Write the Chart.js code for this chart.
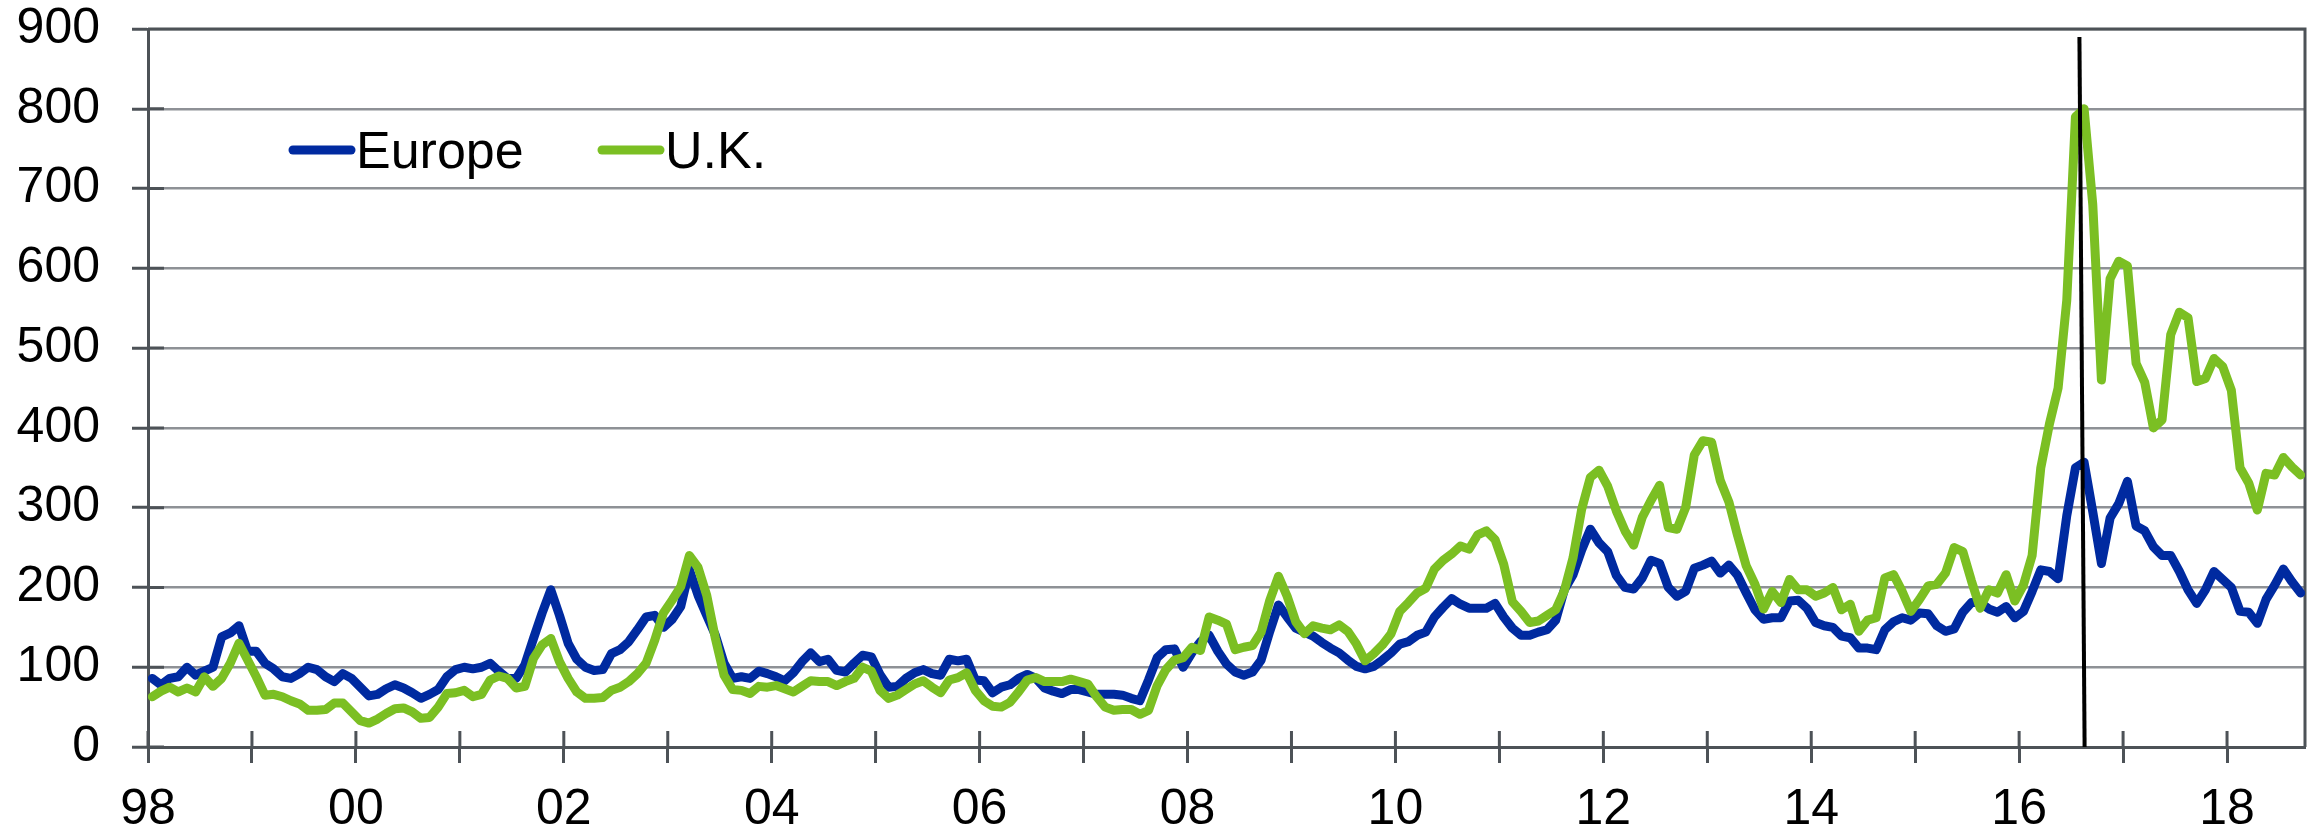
<!DOCTYPE html>
<html>
<head>
<meta charset="utf-8">
<script src="https://cdn.jsdelivr.net/npm/chart.js@4.4.1/dist/chart.umd.min.js"></script>
<style>
  html, body { margin: 0; padding: 0; background: #fff; }
  #wrap { width: 2313px; height: 829px; }
</style>
</head>
<body>
<div id="wrap"><canvas id="chart" width="2313" height="829"></canvas></div>
<script>
// monthly index values, Jan 1998 .. Sep 2018
var europe = [
  86, 78, 86, 88, 100, 90, 95, 100, 138, 143, 152, 120,
  120, 105, 98, 88, 86, 92, 100, 97, 88, 82, 92, 86,
  75, 64, 66, 73, 78, 74, 68, 61, 66, 72, 88, 97,
  100, 98, 100, 105, 95, 86, 86, 103, 136, 168, 197, 165,
  130, 110, 100, 96, 97, 117, 122, 132, 147, 163, 165, 150,
  160, 176, 222, 190, 165, 140, 105, 86, 88, 86, 95, 92,
  88, 83, 93, 107, 118, 107, 110, 96, 94, 105, 115, 113,
  91, 75, 76, 86, 93, 97, 92, 90, 110, 108, 110, 84,
  83, 68, 75, 78, 86, 91, 86, 74, 70, 67, 72, 72,
  69, 66, 66, 66, 65, 61, 58, 84, 112, 122, 123, 100,
  118, 132, 140, 120, 104, 94, 90, 94, 109, 145, 178, 163,
  149, 144, 139, 131, 124, 118, 109, 101, 98, 101, 109, 118,
  129, 132, 140, 144, 163, 175, 186, 179, 174, 174, 174, 180,
  163, 149, 140, 140, 144, 147, 159, 197, 216, 247, 273, 256,
  245, 215, 200, 198, 212, 234, 230, 200, 189, 195, 224, 228,
  233, 218, 228, 215, 193, 172, 160, 162, 162, 183, 184, 174,
  156, 152, 150, 139, 137, 124, 124, 122, 147, 157, 162, 159,
  168, 167, 152, 145, 148, 169, 181, 181, 173, 169, 176, 162,
  170, 195, 222, 220, 211, 290, 350, 357, 295, 230, 287, 305,
  333, 277, 271, 251, 240, 240, 220, 197, 180, 197, 220, 210,
  200, 170, 169, 155, 185, 203, 223, 207, 193
];
var uk = [
  63, 70, 75, 69, 74, 69, 88, 76, 86, 105, 130, 109,
  88, 65, 66, 63, 58, 54, 46, 46, 47, 55, 55, 44,
  33, 30, 35, 42, 48, 49, 44, 36, 37, 50, 67, 68,
  71, 63, 66, 84, 89, 86, 74, 76, 111, 128, 136, 107,
  86, 69, 61, 61, 62, 71, 75, 82, 92, 105, 134, 168,
  184, 201, 240, 225, 190, 136, 90, 72, 71, 67, 76, 75,
  77, 73, 69, 76, 83, 82, 82, 77, 82, 86, 100, 95,
  71, 61, 65, 72, 79, 83, 75, 68, 84, 87, 93, 71,
  58, 51, 50, 56, 69, 84, 87, 82, 82, 82, 85, 82,
  79, 63, 50, 46, 47, 47, 41, 46, 77, 97, 109, 112,
  125, 121, 163, 159, 154, 122, 125, 127, 144, 184, 214, 189,
  157, 142, 152, 149, 147, 153, 145, 129, 108, 117, 128, 142,
  170, 181, 193, 199, 223, 234, 242, 252, 248, 266, 271, 260,
  229, 182, 170, 156, 158, 165, 172, 196, 237, 298, 338, 347,
  327, 296, 271, 253, 288, 309, 328, 275, 273, 300, 366, 384,
  382, 334, 307, 265, 227, 204, 173, 195, 181, 210, 197, 197,
  189, 193, 200, 172, 179, 145, 159, 162, 212, 216, 195, 170,
  185, 202, 204, 218, 250, 245, 208, 174, 197, 193, 216, 183,
  203, 240, 350, 405, 450, 560, 790, 800, 680, 460, 587, 609,
  603, 481, 457, 400, 410, 517, 545, 538, 458, 462, 487, 477,
  447, 350, 331, 297, 343, 341, 363, 351, 341
];
var startYear = 1998;
var endDate = 2018.75;
var yearTicks = [1998, 1999, 2000, 2001, 2002, 2003, 2004, 2005, 2006, 2007, 2008,
                 2009, 2010, 2011, 2012, 2013, 2014, 2015, 2016, 2017, 2018];
var tickLabels = ['98', '00', '02', '04', '06', '08', '10', '12', '14', '16', '18'];
// vertical marker (summer 2016), drawn as a slightly slanted line
var markerDates = [2016.58, 2016.63];
var markerValues = [890, 0];

// each monthly point sits in the middle of its month
var months = europe.map(function (v, i) { return startYear + (i + 0.5) / 12; });

var blue = '#002AA0';
var green = '#7BBF23';
var axisColor = '#4D5257';
var gridColor = '#8E9196';
var font = '"Liberation Sans", Arial, sans-serif';

function toPoints(values) {
    return values.map(function (v, i) { return { x: months[i], y: v }; });
}

var extras = {
    id: 'extras',
    beforeDatasetsDraw: function (chart) {
        var ctx = chart.ctx, a = chart.chartArea;
        var sx = chart.scales.x, sy = chart.scales.y;
        ctx.save();
        ctx.strokeStyle = axisColor;
        ctx.lineWidth = 3;
        ctx.beginPath();
        ctx.moveTo(a.left, a.top);
        ctx.lineTo(a.right, a.top);
        ctx.lineTo(a.right, a.bottom);
        sx.ticks.forEach(function (t) {
            var px = sx.getPixelForValue(t.value);
            ctx.moveTo(px, a.bottom);
            ctx.lineTo(px, a.bottom - 16);
        });
        sy.ticks.forEach(function (t) {
            var py = sy.getPixelForValue(t.value);
            ctx.moveTo(a.left, py);
            ctx.lineTo(a.left + 16, py);
        });
        ctx.stroke();
        ctx.restore();
    },
    afterDraw: function (chart) {
        var ctx = chart.ctx;
        var legendX = [293, 602];
        var legendY = 150;
        ctx.save();
        ctx.font = '52px ' + font;
        ctx.textBaseline = 'alphabetic';
        ctx.lineCap = 'round';
        ctx.lineWidth = 9;
        [0, 1].forEach(function (k) {
            var ds = chart.data.datasets[k];
            ctx.strokeStyle = ds.borderColor;
            ctx.beginPath();
            ctx.moveTo(legendX[k], legendY);
            ctx.lineTo(legendX[k] + 58, legendY);
            ctx.stroke();
            ctx.fillStyle = '#000';
            ctx.fillText(ds.label, legendX[k] + 63, legendY + 18);
        });
        ctx.restore();
    }
};

new Chart(document.getElementById('chart'), {
    type: 'line',
    data: {
        datasets: [
            {
                label: 'Europe',
                data: toPoints(europe),
                borderColor: blue,
                borderWidth: 9,
                pointRadius: 0,
                tension: 0,
                borderJoinStyle: 'round',
                borderCapStyle: 'round',
                order: 3
            },
            {
                label: 'U.K.',
                data: toPoints(uk),
                borderColor: green,
                borderWidth: 9,
                pointRadius: 0,
                tension: 0,
                borderJoinStyle: 'round',
                borderCapStyle: 'round',
                order: 2
            },
            {
                label: '',
                data: markerDates.map(function (d, i) { return { x: d, y: markerValues[i] }; }),
                borderColor: '#000',
                borderWidth: 4,
                pointRadius: 0,
                order: 1
            }
        ]
    },
    options: {
        responsive: false,
        animation: false,
        devicePixelRatio: 1,
        layout: { padding: { left: 0, right: 8, top: 29, bottom: 0 } },
        plugins: {
            legend: { display: false },
            tooltip: { enabled: false }
        },
        scales: {
            x: {
                type: 'linear',
                min: startYear,
                max: endDate,
                afterBuildTicks: function (s) {
                    s.ticks = yearTicks.map(function (v) { return { value: v }; });
                },
                afterFit: function (s) {
                    s.height = 82;
                    s.paddingLeft = 0;
                    s.paddingRight = 0;
                },
                border: { color: axisColor, width: 3 },
                grid: {
                    drawOnChartArea: false,
                    tickLength: 16,
                    tickColor: axisColor,
                    tickWidth: 3
                },
                ticks: {
                    autoSkip: false,
                    maxRotation: 0,
                    padding: 17,
                    color: '#000',
                    font: { family: font, size: 50 },
                    callback: function (v) {
                        var n = v - startYear;
                        return n % 2 === 0 ? tickLabels[n / 2] : '';
                    }
                }
            },
            y: {
                min: 0,
                max: 900,
                afterFit: function (s) {
                    s.width = 148;
                    s.paddingTop = 0;
                    s.paddingBottom = 0;
                },
                border: { color: axisColor, width: 3 },
                grid: {
                    color: gridColor,
                    lineWidth: 2.5,
                    tickLength: 16,
                    tickColor: axisColor,
                    tickWidth: 3
                },
                ticks: {
                    stepSize: 100,
                    padding: 32,
                    color: '#000',
                    font: { family: font, size: 50 }
                }
            }
        }
    },
    plugins: [extras]
});
</script>
</body>
</html>
